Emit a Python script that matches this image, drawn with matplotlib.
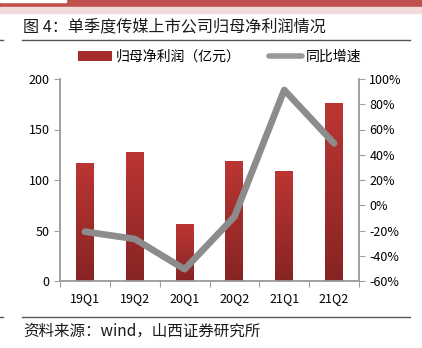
import numpy as np
import matplotlib.pyplot as plt
from matplotlib.colors import LinearSegmentedColormap
from matplotlib.lines import Line2D
from matplotlib.patches import Patch, Rectangle

plt.rcParams['font.family'] = ['Noto Sans CJK SC', 'DejaVu Sans']

# 数据
quarters = ['19Q1', '19Q2', '20Q1', '20Q2', '21Q1', '21Q2']
net_profit = [116.5, 127.7, 56.4, 118.8, 108.9, 176.0]   # 归母净利润（亿元）
yoy_growth = [-20.9, -26.7, -50.7, -9.0, 91.3, 49.0]     # 同比增速 %
left_ticks = [0, 50, 100, 150, 200]
right_ticks = [-60, -40, -20, 0, 20, 40, 60, 80, 100]

W, H = 422, 348
fig = plt.figure(figsize=(W / 100, H / 100), dpi=100)

# 顶部色带
fig.patches.append(Rectangle((0, 1 - 7 / H), 1, 7 / H, transform=fig.transFigure,
                             color='#c0504d', zorder=0))
fig.patches.append(Rectangle((0, 1 - 13 / H), 1, 6 / H, transform=fig.transFigure,
                             color='#f2dcdb', zorder=0))
fig.patches.append(Rectangle((0, 1 - 2 / H), 66 / W, 2 / H, transform=fig.transFigure,
                             color='white', zorder=1))

fig.text(23 / W, 1 - 27 / H, '图 4：单季度传媒上市公司归母净利润情况', fontsize=11.6,
         va='center', ha='left', color='#1a1a1a')
fig.add_artist(Line2D([22 / W, 410 / W], [1 - 40 / H] * 2, color='#555555', lw=1))
fig.add_artist(Line2D([0, 3 / W], [1 - 40 / H] * 2, color='#555555', lw=1))
fig.add_artist(Line2D([22 / W, 410 / W], [1 - 317 / H] * 2, color='#555555', lw=1))
fig.add_artist(Line2D([0, 3 / W], [1 - 317 / H] * 2, color='#555555', lw=1))
fig.text(23 / W, 1 - 331 / H, '资料来源：wind，山西证券研究所', fontsize=11.2,
         va='center', ha='left', color='#1a1a1a')

ax = fig.add_axes([60 / W, 67 / H, 299 / W, 202 / H])
x = np.arange(len(quarters))
bars = ax.bar(x, net_profit, width=0.36, color='#a02c2a', zorder=2)

# 柱子渐变
cmap = LinearSegmentedColormap.from_list('bar', ['#862423', '#bb3633'])
grad = np.linspace(0, 1, 256).reshape(-1, 1)
for b in bars:
    x0, w, h = b.get_x(), b.get_width(), b.get_height()
    im = ax.imshow(grad, extent=(x0, x0 + w, 0, h), origin='lower', cmap=cmap,
                   aspect='auto', zorder=3)
    im.set_clip_path(b)

ax.set_xlim(-0.5, len(quarters) - 0.5)
ax.set_ylim(0, 200)
ax.set_yticks(left_ticks)
ax.set_xticks(np.arange(-0.5, len(quarters), 1.0))
ax.set_xticklabels([])
ax.set_xticks(x, minor=True)
ax.set_xticklabels(quarters, minor=True)
ax.tick_params(axis='x', which='major', length=4, color='#a0a0a0', direction='out')
ax.tick_params(axis='x', which='minor', length=0, pad=8, labelsize=9)
ax.tick_params(axis='y', length=4, color='#a0a0a0', labelsize=9)

ax2 = ax.twinx()
ax2.plot(x, yoy_growth, color='#8c8c8c', lw=4.8, solid_capstyle='round',
         solid_joinstyle='round', zorder=4)
ax2.set_ylim(-60, 100)
ax2.set_yticks(right_ticks)
ax2.set_yticklabels([f'{v}%' for v in right_ticks])
ax2.tick_params(axis='y', length=4, color='#a0a0a0', labelsize=9)

for a in (ax, ax2):
    a.spines['top'].set_visible(False)
    for s in ('left', 'right', 'bottom'):
        a.spines[s].set_color('#a0a0a0')
        a.spines[s].set_linewidth(1.2)

handles = [Patch(facecolor='#a52e2c', edgecolor='none'),
           Line2D([0], [0], color='#999999', lw=4, solid_capstyle='round')]
fig.legend(handles, ['归母净利润（亿元）', '同比增速'], loc='center',
           bbox_to_anchor=(220 / W, 1 - 57 / H), ncol=2, frameon=False,
           fontsize=10, handlelength=2.4, handleheight=0.8, handletextpad=0.3,
           columnspacing=2.0)

fig.savefig('out.png', dpi=100)
